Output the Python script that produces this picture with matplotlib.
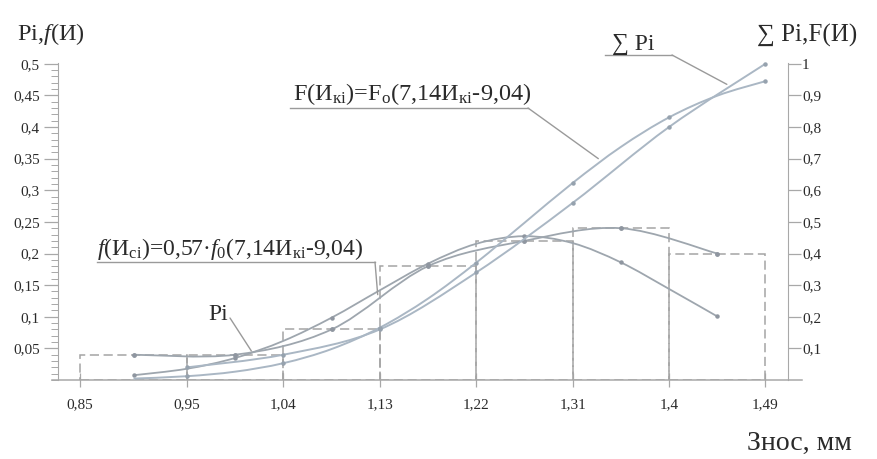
import numpy as np
import matplotlib
matplotlib.use("Agg")
import matplotlib.pyplot as plt
from matplotlib.path import Path
from matplotlib.patches import PathPatch
from matplotlib.lines import Line2D
from matplotlib.ticker import FixedLocator, MultipleLocator

plt.rcParams['font.family'] = ['Liberation Serif', 'DejaVu Serif']
plt.rcParams['mathtext.fontset'] = 'custom'
plt.rcParams['mathtext.rm'] = 'Liberation Serif'
plt.rcParams['mathtext.it'] = 'Liberation Serif:italic'
plt.rcParams['mathtext.default'] = 'regular'

# ---------------- data ----------------
edges = [0.85, 0.95, 1.04, 1.13, 1.22, 1.31, 1.40, 1.49]
pi_vals = [0.04, 0.04, 0.08, 0.18, 0.22, 0.24, 0.20]
pi_mid = [0.90, 0.995, 1.085, 1.175, 1.265, 1.355, 1.445]

cum_x = [0.95, 1.04, 1.13, 1.22, 1.31, 1.40, 1.49]
cum_vals = [0.04, 0.08, 0.16, 0.34, 0.56, 0.80, 1.00]

f_x = [0.90, 0.95, 0.995, 1.04, 1.085, 1.13, 1.175, 1.22, 1.265, 1.31, 1.355, 1.40, 1.445]
f_vals = [0.0075, 0.0178, 0.0349, 0.0619, 0.0986, 0.1419, 0.184, 0.2154, 0.2274, 0.2165, 0.186, 0.144, 0.1006]

F_x = [0.90, 0.95, 0.995, 1.04, 1.085, 1.13, 1.175, 1.22, 1.265, 1.31, 1.355, 1.40, 1.445, 1.49]
F_vals = [0.0045, 0.012, 0.0264, 0.0533, 0.098, 0.1655, 0.2575, 0.371, 0.497, 0.623, 0.737, 0.8305, 0.899, 0.945]

x_ticks = [0.85, 0.95, 1.04, 1.13, 1.22, 1.31, 1.40, 1.49]
x_labels = ['0,85', '0,95', '1,04', '1,13', '1,22', '1,31', '1,4', '1,49']
yl_ticks = [0.05, 0.1, 0.15, 0.2, 0.25, 0.3, 0.35, 0.4, 0.45, 0.5]
yl_labels = ['0,05', '0,1', '0,15', '0,2', '0,25', '0,3', '0,35', '0,4', '0,45', '0,5']
yr_ticks = [0.1, 0.2, 0.3, 0.4, 0.5, 0.6, 0.7, 0.8, 0.9, 1.0]
yr_labels = ['0,1', '0,2', '0,3', '0,4', '0,5', '0,6', '0,7', '0,8', '0,9', '1']

# ---------------- style ----------------
W, H = 878, 459
AX_COL = '#a8a8a8'
HIST_COL = '#a4a4a4'
CURVE_COL = '#9ea6ae'
CUM_COL = '#aab7c4'
TXT_COL = '#2a2a2a'

fig = plt.figure(figsize=(W / 100, H / 100), dpi=100)
L, R, B, T = 58, 788, 380, 60
ax = fig.add_axes([L / W, (H - B) / H, (R - L) / W, (B - T) / H])
ax.set_xlim(0.8295, 1.5111)
ax.set_ylim(0, 0.506)
ax2 = ax.twinx()
ax2.set_ylim(0, 1.012)


def px(x, y):
    return (x / W, 1 - y / H)


def smooth(a, xs, ys, **kw):
    p = np.column_stack([xs, ys]).astype(float)
    verts = [p[0]]
    codes = [Path.MOVETO]
    n = len(p)
    for i in range(n - 1):
        p0 = p[i - 1] if i > 0 else p[i]
        p1 = p[i]
        p2 = p[i + 1]
        p3 = p[i + 2] if i + 2 < n else p[i + 1]
        verts += [p1 + (p2 - p0) / 6.0, p2 - (p3 - p1) / 6.0, p2]
        codes += [Path.CURVE4] * 3
    a.add_patch(PathPatch(Path(verts, codes), fill=False, **kw))


# histogram (dashed)
widths = np.diff(edges)
ax.bar(edges[:-1], pi_vals, width=widths, align='edge', fill=False,
       edgecolor=HIST_COL, linewidth=1.1, linestyle=(0, (6, 3)), zorder=2)

# Pi polygon
smooth(ax, pi_mid, pi_vals, edgecolor=CURVE_COL, linewidth=1.3, zorder=3)
ax.plot(pi_mid, pi_vals, linestyle='none', marker='o', ms=2.5, color='#8f96a0', zorder=4)

# theoretical density
smooth(ax, f_x, f_vals, edgecolor=CURVE_COL, linewidth=1.3, zorder=3)
ax.plot(f_x[::2], f_vals[::2], linestyle='none', marker='o', ms=2.2, color='#8f96a0', zorder=4)

# cumulative curves on right axis
smooth(ax2, cum_x, cum_vals, edgecolor=CUM_COL, linewidth=1.4, zorder=3)
ax2.plot(cum_x, cum_vals, linestyle='none', marker='o', ms=2.2, color='#96a2ae', zorder=4)
smooth(ax2, F_x, F_vals, edgecolor=CUM_COL, linewidth=1.4, zorder=3)
ax2.plot(F_x[1::2], F_vals[1::2], linestyle='none', marker='o', ms=2.2, color='#96a2ae', zorder=4)

# ---------------- axes ----------------
for a in (ax, ax2):
    for s in a.spines.values():
        s.set_visible(False)
ax.spines['left'].set_visible(True)
ax.spines['left'].set_color(AX_COL)
ax.spines['left'].set_bounds(0, 0.502)
ax2.spines['right'].set_visible(True)
ax2.spines['right'].set_color(AX_COL)
ax2.spines['right'].set_bounds(0, 1.004)
# x-axis line extending slightly beyond both vertical axes
ax.plot([-0.008, 1.019], [0, 0], transform=ax.transAxes, color=AX_COL,
        linewidth=1.1, clip_on=False, zorder=5)

ax.xaxis.set_major_locator(FixedLocator(x_ticks))
ax.set_xticklabels(x_labels)
ax.tick_params(axis='x', direction='inout', length=10, width=0.9, color=AX_COL,
               labelsize=11, labelcolor=TXT_COL, pad=8)

ax.yaxis.set_major_locator(FixedLocator(yl_ticks))
ax.set_yticklabels(yl_labels)
ax.yaxis.set_minor_locator(MultipleLocator(0.01))
ax.tick_params(axis='y', which='major', direction='out', length=10, width=0.9,
               color=AX_COL, labelsize=11, labelcolor=TXT_COL, pad=3)
ax.tick_params(axis='y', which='minor', direction='out', length=5, width=0.7,
               color=AX_COL)

ax2.yaxis.set_major_locator(FixedLocator(yr_ticks))
ax2.set_yticklabels(yr_labels)
ax2.tick_params(axis='y', which='major', direction='out', length=9, width=0.9,
                color=AX_COL, labelsize=11, labelcolor=TXT_COL, pad=1)

# ---------------- texts ----------------
fig.text(*px(17, 40), r'Pi,$\mathit{f}$(И)', fontsize=17.5, color=TXT_COL,
         ha='left', va='baseline')
fig.text(*px(757, 42), '∑ Pi,F(И)', fontsize=18, color=TXT_COL,
         ha='left', va='baseline')
fig.text(*px(747, 450), 'Знос, мм', fontsize=20, color=TXT_COL,
         ha='left', va='baseline')

LEAD = '#9a9a9a'


def underline(x0, x1, y):
    fig.add_artist(Line2D([x0 / W, x1 / W], [1 - y / H, 1 - y / H],
                          color=LEAD, linewidth=1.0))


# f label
fig.text(*px(97, 255), r'$\mathit{f}$(И$_{сі}$)=0,57·$\mathit{f}_{0}$(7,14И$_{кі}$-9,04)',
         fontsize=17, color=TXT_COL, ha='left', va='baseline')
underline(97, 375, 262)
ax.annotate('', xy=(1.128, 0.135), xycoords='data',
            xytext=px(375, 262), textcoords='figure fraction',
            arrowprops=dict(arrowstyle='-', color=LEAD, lw=1.0, shrinkA=0, shrinkB=0))

# Pi label
fig.text(*px(208, 320), 'Pi', fontsize=17, color=TXT_COL, ha='left', va='baseline')
ax.annotate('', xy=(1.01, 0.046), xycoords='data',
            xytext=px(230, 318), textcoords='figure fraction',
            arrowprops=dict(arrowstyle='-', color=LEAD, lw=1.0, shrinkA=0, shrinkB=0))

# F label
fig.text(*px(293, 100), r'F(И$_{кі}$)=F$_{о}$(7,14И$_{кі}$-9,04)',
         fontsize=17.5, color=TXT_COL, ha='left', va='baseline')
underline(290, 528, 108)
ax2.annotate('', xy=(1.334, 0.70), xycoords='data',
             xytext=px(528, 108), textcoords='figure fraction',
             arrowprops=dict(arrowstyle='-', color=LEAD, lw=1.0, shrinkA=0, shrinkB=0))

# Sum Pi label
fig.text(*px(612, 50), '∑ Pi', fontsize=17, color=TXT_COL, ha='left', va='baseline')
underline(605, 672, 55)
ax2.annotate('', xy=(1.454, 0.935), xycoords='data',
             xytext=px(672, 55), textcoords='figure fraction',
             arrowprops=dict(arrowstyle='-', color=LEAD, lw=1.0, shrinkA=0, shrinkB=0))

fig.savefig('out.png', dpi=100)
